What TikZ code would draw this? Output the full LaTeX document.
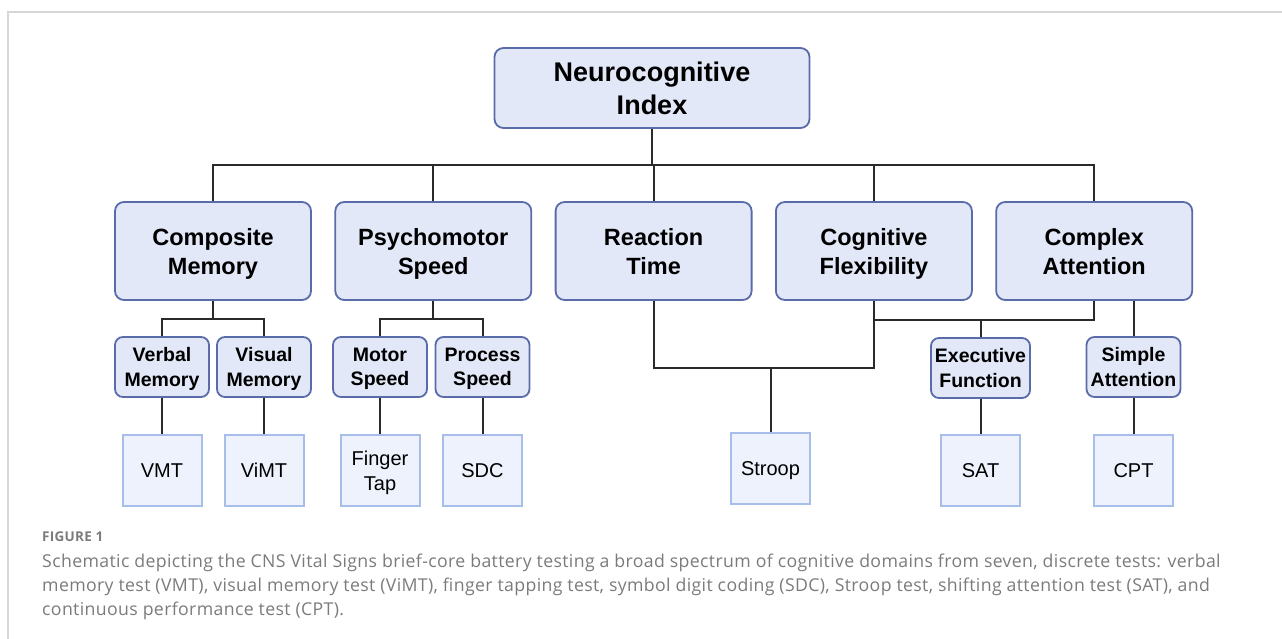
\documentclass[tikz,border=0pt]{standalone}
\usepackage{fontspec}
\setmainfont{Liberation Sans}
\newfontfamily\capfont[LetterSpace=2]{Open Sans}
\usetikzlibrary{positioning}
\usepackage{xcolor}

\definecolor{boxfill}{HTML}{E3E8F8}
\definecolor{boxline}{HTML}{5A6BAA}
\definecolor{testfill}{HTML}{EDF2FC}
\definecolor{testline}{HTML}{A8BEEA}
\definecolor{linkcol}{HTML}{2A2A2A}
\definecolor{framecol}{HTML}{D6D6D6}
\definecolor{capcol}{HTML}{7B7B7B}

\begin{document}
\begin{tikzpicture}[
			x=1pt, y=-1pt,
			node distance=22.5pt,
			topbox/.style={rectangle, rounded corners=9pt, draw=boxline, line width=1.8pt, fill=boxfill, minimum width=315pt, minimum height=80pt, align=center, font=\fontsize{27}{33}\selectfont\bfseries},
			domainbox/.style={rectangle, rounded corners=9pt, draw=boxline, line width=1.8pt, fill=boxfill, minimum width=196pt, minimum height=98pt, text depth=0pt, align=center, font=\fontsize{23.5}{29}\selectfont\bfseries},
			subdomain/.style={rectangle, rounded corners=8pt, draw=boxline, line width=1.8pt, fill=boxfill, minimum width=94pt, minimum height=60pt, inner xsep=4pt, text depth=0pt, align=center, font=\fontsize{19.5}{24.5}\selectfont\bfseries},
			testbox/.style={rectangle, draw=testline, line width=2pt, fill=testfill, minimum width=79pt, minimum height=71pt, text depth=0pt, align=center, font=\fontsize{20}{25}\selectfont},
			link/.style={draw=linkcol, line width=2pt}
			]
			\useasboundingbox (0,0) rectangle (1282,639);
			
			% Frame
			\draw[framecol, line width=1.2pt] (1282,12) -- (8,12) -- (8,639);
			
			% Node 1: Index
			\node[topbox] (neuro) at (652,88) {Neurocognitive\\Index};
			
			% Nodes 2: Domains
			\node[domainbox] (compmem) at (213,251) {Composite\\Memory};
			\node[domainbox, right=of compmem] (psycho) {Psychomotor\\Speed};
			\node[domainbox, right=of psycho] (reaction) {Reaction\\Time};
			\node[domainbox, right=of reaction] (cogflex) {Cognitive\\Flexibility};
			\node[domainbox, right=of cogflex] (complex) {Complex\\Attention};
			
			% Nodes 3: Sub-domains
			\node[subdomain] (verbal) at (162,367) {Verbal\\Memory};
			\node[subdomain] (visual) at (264,367) {Visual\\Memory};
			\node[subdomain] (motor) at (380,367) {Motor\\Speed};
			\node[subdomain] (process) at (482.5,367) {Process\\Speed};
			\node[subdomain] (exec) at (980.5,368) {Executive\\Function};
			\node[subdomain] (simple) at (1133.5,367) {Simple\\Attention};
			
			% Nodes 4: Tests
			\node[testbox, below=36pt of verbal] (vmt) {VMT};
			\node[testbox, below=36pt of visual] (vimt) {ViMT};
			\node[testbox, below=36pt of motor] (finger) {Finger\\Tap};
			\node[testbox, below=36pt of process] (sdc) {SDC};
			\node[testbox] (stroop) at (770.5,468.5) {Stroop};
			\node[testbox, below=35pt of exec] (sat) {SAT};
			\node[testbox, below=36pt of simple] (cpt) {CPT};
			
			% Lines: index to domains
			\coordinate (bus) at (652,165);
			\draw[link] (neuro.south) -- (bus);
			\draw[link] (compmem.north) |- (bus) -| (complex.north);
			\foreach \d in {psycho,reaction,cogflex}
			\draw[link] (\d.north) -- (\d.north |- bus);
			
			% Lines: domains to sub-domains
			\draw[link] (compmem.south) -- ++(0,18) coordinate (memfork);
			\draw[link] (verbal.north) |- (memfork) -| (visual.north);
			\draw[link] (psycho.south) -- ++(0,18) coordinate (speedfork);
			\draw[link] (motor.north) |- (speedfork) -| (process.north);
			\draw[link] (cogflex.south) -- ++(0,19) coordinate (execfork) -| (complex.south);
			\draw[link] (exec.north) -- (exec.north |- execfork);
			\draw[link] (simple.north) -- (simple.north |- complex.south);
			\draw[link] (reaction.south) -- ++(0,67) coordinate (stroopfork) -| (cogflex.south);
			
			% Lines: to tests
			\draw[link] (verbal) -- (vmt);
			\draw[link] (visual) -- (vimt);
			\draw[link] (motor) -- (finger);
			\draw[link] (process) -- (sdc);
			\draw[link] (stroop.north) -- (stroop.north |- stroopfork);
			\draw[link] (exec) -- (sat);
			\draw[link] (simple) -- (cpt);
			
			% Caption
			\node[anchor=base west, inner sep=0pt, text=capcol, font=\capfont\bfseries\fontsize{13.5}{16}\selectfont] (figlabel) at (42,541) {FIGURE 1};
			\node[anchor=north west, inner sep=0pt, align=left, text=capcol, font=\capfont\fontsize{17.7}{24}\selectfont] (caption) at (42,554) {Schematic depicting the CNS Vital Signs brief-core battery testing a broad spectrum of cognitive domains from seven, discrete tests: verbal\\memory test (VMT), visual memory test (ViMT), finger tapping test, symbol digit coding (SDC), Stroop test, shifting attention test (SAT), and\\continuous performance test (CPT).};
			
		\end{tikzpicture}
\end{document}
